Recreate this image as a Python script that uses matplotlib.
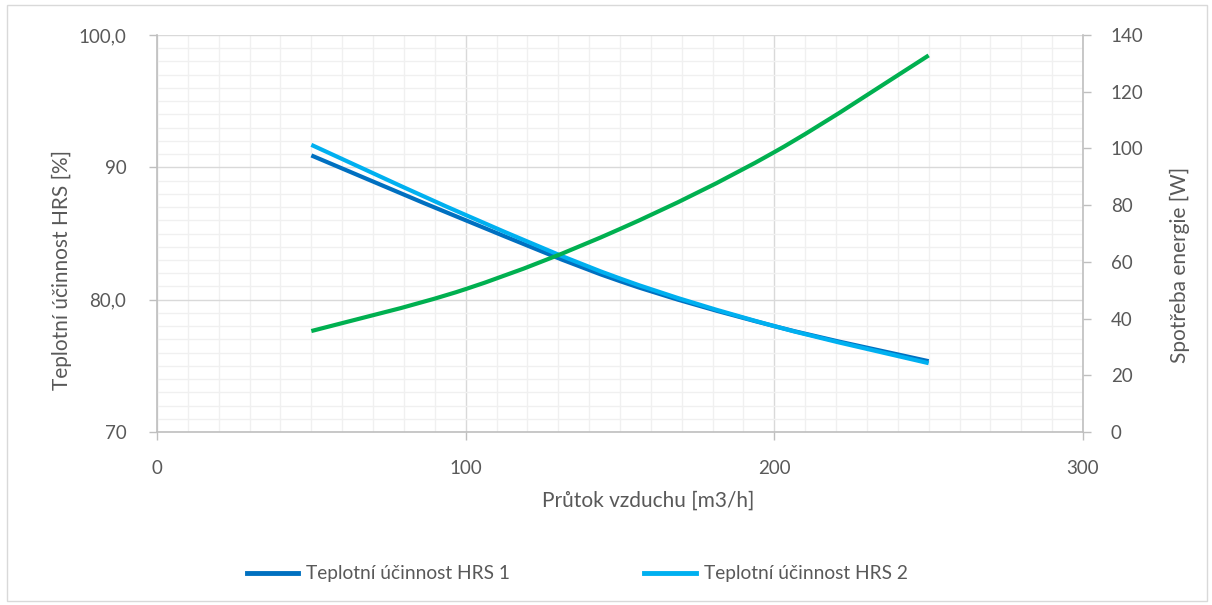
import matplotlib
matplotlib.use("Agg")
import matplotlib.pyplot as plt
import numpy as np
from matplotlib.path import Path
from matplotlib.patches import PathPatch, Rectangle
from matplotlib.lines import Line2D
from matplotlib.ticker import MultipleLocator

plt.rcParams['font.family'] = ['Lato', 'DejaVu Sans']

# Airflow [m3/h]
flow = [50, 100, 150, 200, 250]
# Thermal efficiency of the heat recovery units [%]
eff_hrs1 = [90.9, 86.0, 81.4, 78.0, 75.35]
eff_hrs2 = [91.7, 86.4, 81.6, 78.0, 75.2]
# Power consumption [W]
power = [35.6, 50.4, 71.6, 98.7, 132.8]

y_left_ticks = [70, 80, 90, 100]
y_left_labels = ["70", "80,0", "90", "100,0"]
y_right_ticks = [0, 20, 40, 60, 80, 100, 120, 140]
x_ticks = [0, 100, 200, 300]

C_HRS1 = "#0070C0"
C_HRS2 = "#00B0F0"
C_POWER = "#00B050"
C_TEXT = "#595959"
C_AXIS = "#BFBFBF"
C_MAJOR = "#D9D9D9"
C_MINOR = "#F0F0F0"


def smooth_path(xs, ys):
    """Cubic Bezier path through the points (Excel-style smoothed line)."""
    pts = np.column_stack([xs, ys]).astype(float)
    n = len(pts)
    verts = [pts[0]]
    codes = [Path.MOVETO]
    for i in range(n - 1):
        p0 = pts[i - 1] if i > 0 else pts[i]
        p1 = pts[i]
        p2 = pts[i + 1]
        p3 = pts[i + 2] if i + 2 < n else pts[i + 1]
        c1 = p1 + (p2 - p0) / 6.0
        c2 = p2 - (p3 - p1) / 6.0
        verts += [c1, c2, p2]
        codes += [Path.CURVE4] * 3
    return Path(verts, codes)


def draw_curve(ax, xs, ys, color):
    ax.add_patch(PathPatch(smooth_path(xs, ys), facecolor="none",
                           edgecolor=color, lw=3.0, capstyle="butt",
                           joinstyle="round"))


fig = plt.figure(figsize=(12.12, 6.05), dpi=100)
fig.patches.append(Rectangle((0.0058, 0.007), 0.9900, 0.9853, transform=fig.transFigure,
                             fill=False, edgecolor=C_MAJOR, lw=1.0))

ax = fig.add_axes([157 / 1212, 1 - 432 / 605, (1083 - 157) / 1212, (432 - 35) / 605])
ax2 = ax.twinx()

ax.set_xlim(0, 300)
ax.set_ylim(70, 100)
ax2.set_ylim(0, 140)

# grid
ax.xaxis.set_minor_locator(MultipleLocator(10))
ax.yaxis.set_minor_locator(MultipleLocator(1))
ax.grid(which="minor", color=C_MINOR, lw=1.0)
ax.grid(which="major", color=C_MAJOR, lw=1.0)
ax.set_axisbelow(True)

draw_curve(ax, flow, eff_hrs1, C_HRS1)
draw_curve(ax, flow, eff_hrs2, C_HRS2)
draw_curve(ax2, flow, power, C_POWER)

ax.set_xticks(x_ticks)
ax.set_yticks(y_left_ticks)
ax.set_yticklabels(y_left_labels)
ax2.set_yticks(y_right_ticks)

for a in (ax, ax2):
    for s in a.spines.values():
        s.set_visible(False)
ax.spines["left"].set_visible(True)
ax.spines["bottom"].set_visible(True)
ax2.spines["right"].set_visible(True)
for s in (ax.spines["left"], ax.spines["bottom"], ax2.spines["right"]):
    s.set_color(C_AXIS)
    s.set_linewidth(1.2)

ax.tick_params(axis="both", which="major", direction="out", length=6, width=1.0,
               color=C_AXIS, labelcolor=C_TEXT, labelsize=13.5)
ax.tick_params(axis="x", pad=14)
ax.tick_params(axis="y", pad=16)
ax.tick_params(which="minor", length=0)
ax2.tick_params(axis="y", direction="out", length=6, width=1.0, color=C_AXIS,
                labelcolor=C_TEXT, labelsize=13.5, pad=14)

ax.set_xlabel("Průtok vzduchu [m3/h]", fontsize=15, color=C_TEXT)
ax.set_ylabel("Teplotní účinnost HRS [%]", fontsize=15, color=C_TEXT)
ax2.set_ylabel("Spotřeba energie [W]", fontsize=15, color=C_TEXT)
ax.xaxis.set_label_coords((648 - 157) / 926, -(501 - 432) / 397)
ax.yaxis.set_label_coords((62 - 157) / 926, (432 - 270) / 397)
ax2.yaxis.set_label_coords((1180 - 157) / 926, (432 - 265) / 397)
for lab in (ax.xaxis.label, ax.yaxis.label, ax2.yaxis.label):
    lab.set_verticalalignment("center")
    lab.set_horizontalalignment("center")

handles = [Line2D([], [], color=C_HRS1, lw=3.5),
           Line2D([], [], color=C_HRS2, lw=3.5)]
fig.legend(handles, ["Teplotní účinnost HRS 1", "Teplotní účinnost HRS 2"],
           loc="center", bbox_to_anchor=(577 / 1212, 1 - 574 / 605), ncol=2,
           frameon=False, fontsize=13.8, labelcolor=C_TEXT,
           handlelength=2.7, handletextpad=0.4, columnspacing=7.0)

fig.savefig("out.png", dpi=100)
